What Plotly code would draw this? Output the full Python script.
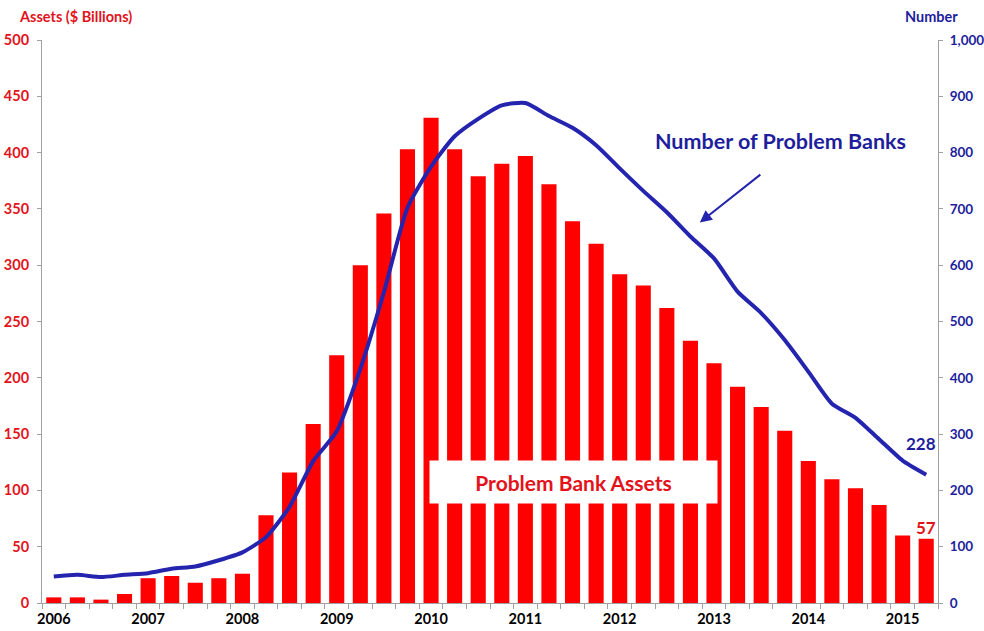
import plotly.graph_objects as go

quarters = [f"{y} Q{q}" for y in range(2006, 2016) for q in range(1, 5)][:38]
assets = [5, 5, 3, 8, 22, 24, 18, 22, 26, 78, 116, 159, 220, 300, 346, 403, 431, 403, 379, 390,
          397, 372, 339, 319, 292, 282, 262, 233, 213, 192, 174, 153, 126, 110, 102, 87, 60, 57]
banks = [47, 50, 46, 50, 53, 61, 65, 76, 90, 117, 171, 252, 305, 416, 552, 702, 775, 829, 860, 884,
         888, 865, 844, 813, 772, 732, 694, 651, 612, 553, 515, 467, 411, 354, 329, 291, 253, 228]
year_labels = [str(y) for y in range(2006, 2016)]

RED = "#FF0000"
RED_TXT = "#E3131B"
BLUE = "#2424AE"
BLUE_TXT = "#1E1E9C"
FONT = "Lato"

xs = list(range(len(quarters)))

fig = go.Figure()
fig.add_trace(go.Bar(x=xs, y=assets, marker_color=RED, marker_line_width=0, name="Problem Bank Assets",
                     hovertext=quarters))
fig.add_trace(go.Scatter(x=xs, y=banks, yaxis="y2", mode="lines",
                         line=dict(color=BLUE, width=4, shape="spline", smoothing=0.6),
                         name="Number of Problem Banks", hovertext=quarters))

fig.update_layout(
    width=984, height=631,
    margin=dict(l=42, r=46, t=40, b=28, autoexpand=False),
    paper_bgcolor="white", plot_bgcolor="white",
    showlegend=False, bargap=0.36,
    font=dict(family=FONT),
    xaxis=dict(range=[-0.5, len(xs) - 0.5], tickvals=xs[::4], ticktext=[f"<b>{t}</b>" for t in year_labels],
               tickfont=dict(size=14.5, color="black", family=FONT), ticks="", showgrid=False, zeroline=False,
               showline=True, linecolor="#A0A0A0", linewidth=1, ticklabelstandoff=3, automargin=False,
               minor=dict(tickvals=[i - 0.5 for i in range(len(xs) + 1)], ticks="outside", ticklen=5,
                          tickcolor="#A0A0A0", showgrid=False)),
    yaxis=dict(range=[0, 500], dtick=50, showgrid=False, zeroline=False, showline=True, automargin=False,
               linecolor="#A0A0A0", ticks="outside", ticklen=4, tickcolor="#A0A0A0", ticklabelstandoff=5,
               tickfont=dict(size=14.5, color=RED_TXT, family=FONT), tickprefix="<b>", ticksuffix="</b>"),
    yaxis2=dict(range=[0, 1000], dtick=100, overlaying="y", side="right", showgrid=False, zeroline=False,
                showline=True, linecolor="#A0A0A0", ticks="outside", ticklen=4, tickcolor="#A0A0A0",
                automargin=False,
                tickformat=",d", tickfont=dict(size=13.5, color=BLUE_TXT, family=FONT), ticklabelstandoff=4,
                tickprefix="<b>", ticksuffix="</b>"),
)

ann = [
    dict(text="<b>Assets ($ Billions)</b>", xref="paper", yref="paper", x=-0.028, y=1.0, yshift=24,
         xanchor="left", yanchor="middle", showarrow=False, font=dict(size=14.5, color=RED_TXT)),
    dict(text="<b>Number</b>", xref="paper", yref="paper", x=1.0246, y=1.0, yshift=24,
         xanchor="right", yanchor="middle", showarrow=False, font=dict(size=14.5, color=BLUE_TXT)),
    dict(text="<b>Number of Problem Banks</b>", x=30.8, y=410, showarrow=False,
         font=dict(size=21.5, color=BLUE_TXT)),
    dict(text="", x=27.4, y=338, ax=62, ay=-49, showarrow=True, arrowhead=2, arrowsize=1.2,
         arrowwidth=2, arrowcolor=BLUE),
    dict(text="<b>Problem Bank Assets</b>", x=22.06, y=107.5, showarrow=False, bgcolor="white",
         width=285, height=40, font=dict(size=21, color=RED_TXT)),
    dict(text="<b>228</b>", x=36.8, y=142, showarrow=False, font=dict(size=17, color=BLUE_TXT)),
    dict(text="<b>57</b>", x=37.0, y=67.5, showarrow=False, font=dict(size=17, color=RED_TXT)),
]
fig.update_layout(annotations=ann)

fig.write_html("out.html", config={"displayModeBar": False},
               post_script="document.body.style.margin='0';document.body.style.overflow='hidden';")
